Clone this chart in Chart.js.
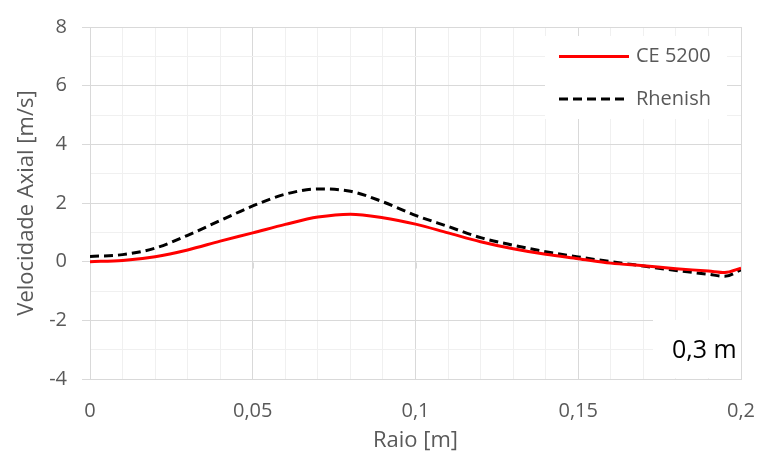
<!DOCTYPE html>
<html>
<head>
<meta charset="utf-8">
<script src="https://cdn.jsdelivr.net/npm/chart.js@4"></script>
<style>
  html, body { margin: 0; padding: 0; background: #fff; overflow: hidden; }
  #wrap { position: relative; width: 757px; height: 460px; }
  canvas { display: block; }
</style>
</head>
<body>
<div id="wrap"><canvas id="velocidade"></canvas></div>
<script>
// dados (0,3 m)
const raio = [0, 0.01, 0.02, 0.03, 0.04, 0.05, 0.06, 0.07, 0.08, 0.09, 0.1,
  0.11, 0.12, 0.13, 0.14, 0.15, 0.16, 0.17, 0.18, 0.19, 0.195, 0.2];
const ce5200 = [0.0, 0.04, 0.17, 0.4, 0.7, 0.98, 1.27, 1.52, 1.62, 1.5, 1.28,
  0.98, 0.68, 0.44, 0.25, 0.1, -0.05, -0.14, -0.24, -0.32, -0.37, -0.22];
const rhenish = [0.18, 0.24, 0.46, 0.9, 1.4, 1.9, 2.3, 2.48, 2.4, 2.04, 1.58,
  1.2, 0.82, 0.56, 0.34, 0.16, 0.0, -0.15, -0.3, -0.43, -0.5, -0.28];
const xMajor = [0, 0.05, 0.1, 0.15, 0.2];
const yMajor = [-4, -2, 0, 2, 4, 6, 8];
const legendas = ["CE 5200", "Rhenish"];
const anotacao = "0,3 m";

const cinza = "#595959";
const gradeForte = "#d9d9d9";
const gradeFraca = "#f0f0f0";
const fonte = "'Open Sans', sans-serif";

function ehMajor(lista, v) {
  return lista.some(m => Math.abs(m - v) < 1e-6);
}
function virgula(v) {
  return String(+v.toFixed(3)).replace(".", ",");
}

// legenda e caixa "0,3 m" dentro da área do gráfico
const caixas = {
  id: "caixas",
  afterDatasetsDraw(chart) {
    const ctx = chart.ctx;
    const a = chart.chartArea;
    const xs = chart.scales.x, ys = chart.scales.y;
    ctx.save();
    // pequenos traços do eixo horizontal em y = 0
    ctx.strokeStyle = gradeForte;
    ctx.lineWidth = 1;
    const y0 = Math.round(ys.getPixelForValue(0)) + 0.5;
    xMajor.slice(1).forEach(v => {
      const px = Math.round(xs.getPixelForValue(v)) + 0.5;
      ctx.beginPath(); ctx.moveTo(px, y0); ctx.lineTo(px, y0 + 6); ctx.stroke();
    });

    // legenda
    const lx = a.right - 196, ly = a.top + 9;
    ctx.fillStyle = "#fff";
    ctx.fillRect(lx, ly, 182, 83);
    const estilos = [
      { cor: "#ff0000", dash: [] },
      { cor: "#000000", dash: [9, 5] }
    ];
    legendas.forEach((t, i) => {
      const yy = ly + 20.5 + i * 42.5;
      ctx.setLineDash(estilos[i].dash);
      ctx.strokeStyle = estilos[i].cor;
      ctx.lineWidth = 3;
      ctx.beginPath(); ctx.moveTo(lx + 14, yy); ctx.lineTo(lx + 84, yy); ctx.stroke();
      ctx.setLineDash([]);
      ctx.fillStyle = cinza;
      ctx.font = "20px " + fonte;
      ctx.textBaseline = "middle";
      ctx.fillText(t, lx + 91, yy);
    });

    // caixa da posição
    ctx.fillStyle = "#fff";
    ctx.fillRect(a.right - 88, a.bottom - 59, 88, 58);
    ctx.fillStyle = "#000";
    ctx.font = "25px " + fonte;
    ctx.textBaseline = "alphabetic";
    ctx.fillText(anotacao, a.right - 69, a.bottom - 21);
    ctx.restore();
  }
};

new Chart(document.getElementById("velocidade"), {
  type: "line",
  data: {
    datasets: [
      {
        label: legendas[0],
        data: raio.map((r, i) => ({ x: r, y: ce5200[i] })),
        borderColor: "#ff0000",
        borderWidth: 3,
        pointRadius: 0,
        cubicInterpolationMode: "monotone"
      },
      {
        label: legendas[1],
        data: raio.map((r, i) => ({ x: r, y: rhenish[i] })),
        borderColor: "#000000",
        borderWidth: 3,
        borderDash: [9, 5],
        pointRadius: 0,
        cubicInterpolationMode: "monotone"
      }
    ]
  },
  options: {
    responsive: true,
    maintainAspectRatio: false,
    animation: false,
    layout: { padding: { left: 0, right: 16, top: 23, bottom: 0 } },
    plugins: { legend: { display: false }, tooltip: { enabled: false } },
    scales: {
      x: {
        type: "linear",
        min: 0, max: 0.2,
        afterFit: s => { s.height = 81; s.paddingLeft = 0; s.paddingRight = 0; },
        border: { color: gradeForte },
        grid: {
          drawTicks: false,
          color: c => ehMajor(xMajor, c.tick.value) ? gradeForte : gradeFraca
        },
        ticks: {
          stepSize: 0.01,
          autoSkip: false,
          maxRotation: 0,
          padding: 20,
          color: cinza,
          font: { family: fonte, size: 20 },
          callback: v => ehMajor(xMajor, v) ? virgula(v) : ""
        },
        title: {
          display: true,
          text: "Raio [m]",
          color: cinza,
          font: { family: fonte, size: 22 },
          padding: { top: 2, bottom: 6 }
        }
      },
      y: {
        min: -4, max: 8,
        afterFit: s => { s.width = 90; },
        border: { color: gradeForte },
        grid: {
          tickLength: 8,
          color: c => ehMajor(yMajor, c.tick.value) ? gradeForte : gradeFraca,
          tickColor: c => ehMajor(yMajor, c.tick.value) ? gradeForte : "rgba(0,0,0,0)"
        },
        ticks: {
          stepSize: 1,
          autoSkip: false,
          padding: 15,
          color: cinza,
          font: { family: fonte, size: 20 },
          callback: v => ehMajor(yMajor, v) ? virgula(v) : ""
        },
        title: {
          display: true,
          text: "Velocidade Axial [m/s]",
          color: cinza,
          font: { family: fonte, size: 22 },
          padding: { top: 14, bottom: 0 }
        }
      }
    }
  },
  plugins: [caixas]
});
</script>
</body>
</html>
